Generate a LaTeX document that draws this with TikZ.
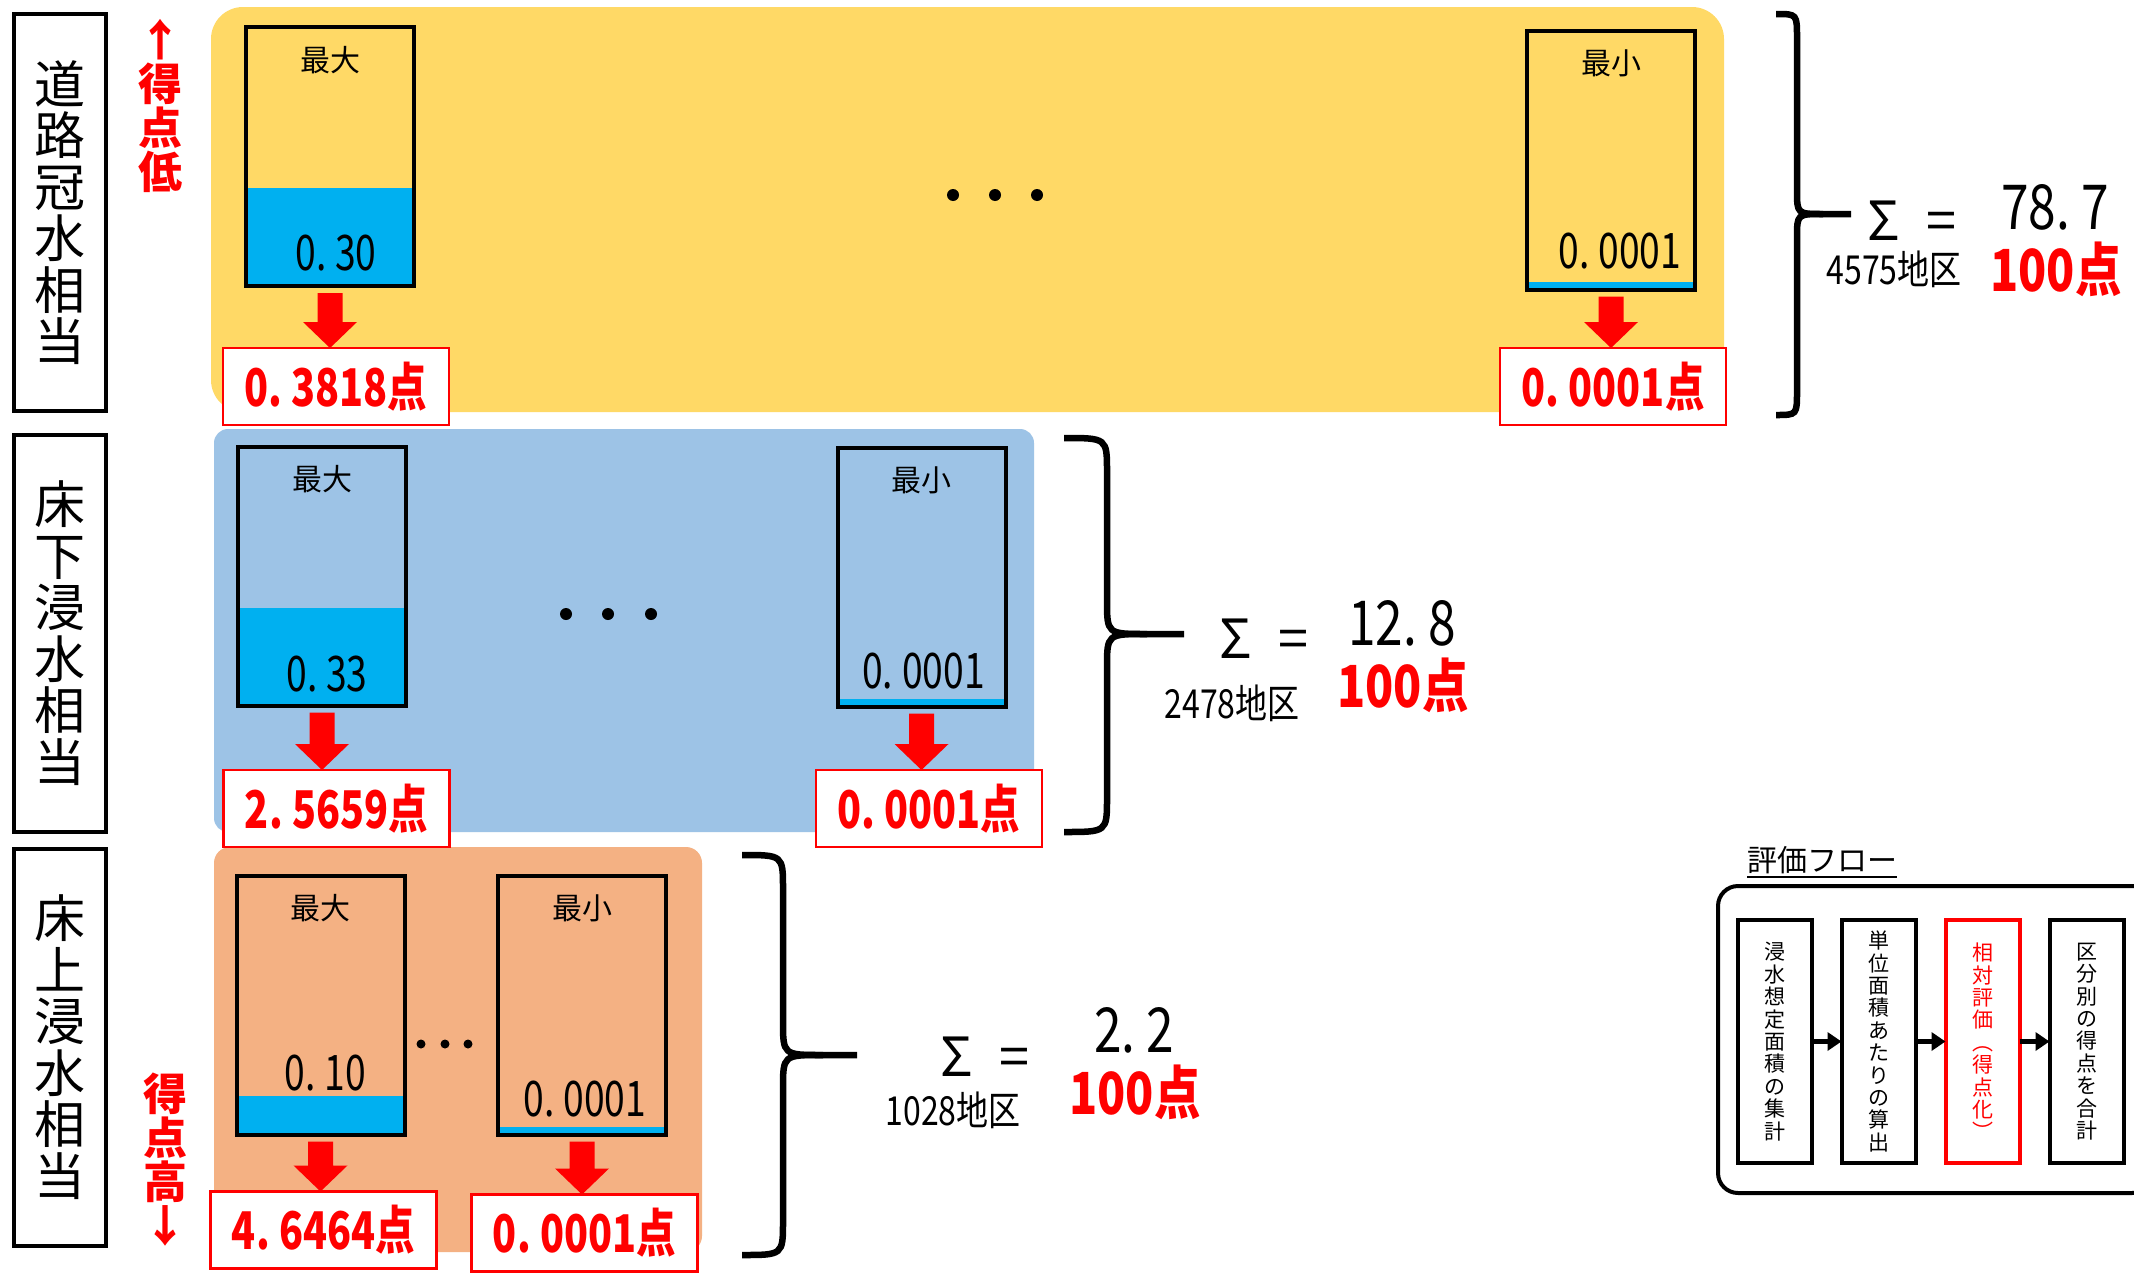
\documentclass[tikz,border=0pt]{standalone}
\usepackage{fontspec}
\usetikzlibrary{calc,arrows.meta}
\newfontfamily\jp{Noto Sans CJK JP}
\newfontfamily\jpn[FakeStretch=0.8]{Noto Sans CJK JP}
\newfontfamily\jpc[FakeStretch=0.76]{Noto Sans CJK JP}
% extra room after a decimal point, as in the number face used here
\newcommand\dg{.\kern0.18em}

\definecolor{panelyellow}{HTML}{FFD966}
\definecolor{panelblue}{HTML}{9DC3E6}
\definecolor{panelorange}{HTML}{F4B183}
\definecolor{waterblue}{HTML}{00B0F0}
\definecolor{scorered}{HTML}{FF0000}

\tikzset{
  every node/.style={inner sep=0pt, outer sep=0pt},
  catbox/.style={draw, line width=4pt, minimum width=92pt, minimum height=397pt,
    align=center, font=\jp\fontsize{51}{51.5}\selectfont},
  redlabel/.style={text=scorered, align=center, font=\jp\bfseries\fontsize{44}{44}\selectfont},
  tank/.style={draw, line width=4pt, minimum width=168pt, minimum height=259pt},
  waterlevel/.style={path picture={\fill[waterblue] (path picture bounding box.south west)
      rectangle ([yshift=#1]path picture bounding box.south east);}},
  tanklabel/.style={font=\jp\fontsize{30}{30}\selectfont},
  tankvalue/.style={font=\jpc\fontsize{49}{49}\selectfont},
  scorebox/.style={draw=scorered, fill=white, line width=2.5pt, minimum width=226pt,
    minimum height=77pt, text=scorered, font=\jpc\bfseries\fontsize{52}{52}\selectfont},
  bracestyle/.style={line width=6.5pt},
  sumsym/.style={font=\jp\fontsize{54}{54}\selectfont},
  sumval/.style={font=\jpn\fontsize{62}{62}\selectfont},
  sumcount/.style={font=\jpn\fontsize{40}{40}\selectfont},
  sumpts/.style={text=scorered, font=\jpn\bfseries\fontsize{58}{58}\selectfont},
  flowbox/.style={draw, line width=4pt, minimum width=74pt, minimum height=243pt,
    align=center, font=\jp\fontsize{21}{22.4}\selectfont},
  flowarrow/.style={line width=5pt, -{Triangle[length=14pt,width=18pt]}},
}

% red block arrow from a tank down to its score box
\newcommand\scorearrow[2]{%
  \fill[scorered] let \p1=($(#1.south)+(0,7)$), \p2=(#2.north) in
    (\x1-12.5pt,\y1) -- (\x1+12.5pt,\y1) -- (\x1+12.5pt,\y2+26pt) -- (\x1+27pt,\y2+26pt)
    -- (\x1,\y2) -- (\x1-27pt,\y2+26pt) -- (\x1-12.5pt,\y2+26pt) -- cycle;}

% curly brace: left end x, spine x, top, middle, bottom, tip x, hook radius, middle bend
\newcommand\bigbrace[8]{%
  \draw[bracestyle] (#1,#3) .. controls (#2,#3) .. (#2,#3+#7) -- (#2,#4-#7)
    .. controls (#2,#4) .. (#2+#8,#4) -- (#6,#4);
  \draw[bracestyle] (#2+#8,#4) .. controls (#2,#4) .. (#2,#4+#7) -- (#2,#5-#7)
    .. controls (#2,#5) .. (#1,#5);}

\begin{document}
\begin{tikzpicture}[x=1pt,y=-1pt]
\useasboundingbox (0,0) rectangle (2134,1272);
\fill[white] (0,0) rectangle (2134,1272);

% coloured bands
\fill[panelyellow, rounded corners=32pt] (211,7) rectangle (1724,412);
\fill[panelblue, rounded corners=14pt] (214,429) rectangle (1034,832);
\fill[panelorange, rounded corners=16pt] (214,847) rectangle (702,1252);

% category labels
\node[catbox] (cat1) at (60,212.5) {道\\路\\冠\\水\\相\\当};
\node[catbox] (cat2) at (60,633) {床\\下\\浸\\水\\相\\当};
\node[catbox] (cat3) at (60,1047) {床\\上\\浸\\水\\相\\当};
\node[redlabel] (low) at (160,106) {↑\\得\\点\\低};
\node[redlabel] (high) at (165,1160) {得\\点\\高\\↓};

% road flooding
\node[tank, waterlevel=98pt] (t1a) at (330,156.5) {};
\node[tanklabel] (t1al) at ([yshift=-33pt]t1a.north) {最大};
\node[tankvalue] (t1av) at ([shift={(6pt,33pt)}]t1a.south) {0\dg30};
\node[tank, waterlevel=8pt] (t1b) at (1611,160) {};
\node[tanklabel] (t1bl) at ([yshift=-33pt]t1b.north) {最小};
\node[tankvalue] (t1bv) at ([shift={(9pt,38pt)}]t1b.south) {0\dg0001};
\fill (953,195) circle (6pt) (995,195) circle (6pt) (1037,195) circle (6pt);
\node[scorebox] (s1a) at (336,386.5) {0\dg3818点};
\node[scorebox] (s1b) at (1613,386.5) {0\dg0001点};
\scorearrow{t1a}{s1a}
\scorearrow{t1b}{s1b}

% below-floor flooding
\node[tank, waterlevel=98pt] (t2a) at (322,576) {};
\node[tanklabel] (t2al) at ([yshift=-33pt]t2a.north) {最大};
\node[tankvalue] (t2av) at ([shift={(5pt,31pt)}]t2a.south) {0\dg33};
\node[tank, waterlevel=8pt] (t2b) at (921.5,577) {};
\node[tanklabel] (t2bl) at ([yshift=-33pt]t2b.north) {最小};
\node[tankvalue] (t2bv) at ([shift={(2pt,35pt)}]t2b.south) {0\dg0001};
\fill (566,614) circle (6pt) (608,614) circle (6pt) (651,614) circle (6pt);
\node[scorebox] (s2a) at (336.5,808.5) {2\dg5659点};
\node[scorebox] (s2b) at (929,808.5) {0\dg0001点};
\scorearrow{t2a}{s2a}
\scorearrow{t2b}{s2b}

% above-floor flooding
\node[tank, waterlevel=39pt] (t3a) at (320.5,1005) {};
\node[tanklabel] (t3al) at ([yshift=-33pt]t3a.north) {最大};
\node[tankvalue] (t3av) at ([shift={(5pt,61pt)}]t3a.south) {0\dg10};
\node[tank, waterlevel=8pt] (t3b) at (582,1005) {};
\node[tanklabel] (t3bl) at ([yshift=-33pt]t3b.north) {最小};
\node[tankvalue] (t3bv) at ([shift={(3pt,35pt)}]t3b.south) {0\dg0001};
\fill (421,1044) circle (4.5pt) (445,1044) circle (4.5pt) (468,1044) circle (4.5pt);
\node[scorebox] (s3a) at (323.5,1230) {4\dg6464点};
\node[scorebox] (s3b) at (584.5,1233) {0\dg0001点};
\scorearrow{t3a}{s3a}
\scorearrow{t3b}{s3b}

% totals
\bigbrace{1776}{1797}{14}{214}{415}{1851}{24}{26}
\node[sumsym] (sum1) at (1912,221) {Σ\hspace{26pt}=};
\node[sumval] (sum1v) at (2055,207) {78\dg7};
\node[sumcount] (sum1c) at (1894,269) {4575地区};
\node[sumpts] (sum1p) at (2056,269) {100点};

\bigbrace{1064}{1107}{438}{634}{832}{1184}{34}{40}
\node[sumsym] (sum2) at (1264,639) {Σ\hspace{26pt}=};
\node[sumval] (sum2v) at (1402,623) {12\dg8};
\node[sumcount] (sum2c) at (1232,703) {2478地区};
\node[sumpts] (sum2p) at (1403,685) {100点};

\bigbrace{742}{783}{855}{1055}{1255}{857}{34}{40}
\node[sumsym] (sum3) at (985,1057) {Σ\hspace{26pt}=};
\node[sumval] (sum3v) at (1134,1030) {2\dg2};
\node[sumcount] (sum3c) at (953,1110) {1028地区};
\node[sumpts] (sum3p) at (1135,1092) {100点};

% evaluation flow
\node[font=\jp\fontsize{30}{30}\selectfont] (flowtitle) at (1822,860) {評価フロー};
\draw[line width=2pt] ([yshift=-3pt]flowtitle.south west) -- ([yshift=-3pt]flowtitle.south east);
\begin{scope}
  \clip (0,0) rectangle (2134,1272);
  \draw[line width=4pt, rounded corners=20pt] (1718,886) rectangle (2152,1193);
\end{scope}
\node[flowbox] (f1) at (1775,1041.5) {浸\\水\\想\\定\\面\\積\\の\\集\\計};
\node[flowbox] (f2) at (1878.5,1041.5) {単\\位\\面\\積\\あ\\た\\り\\の\\算\\出};
\node[flowbox, draw=scorered, text=scorered] (f3) at (1982.5,1041.5) {相\\対\\評\\価\\︵\\得\\点\\化\\︶};
\node[flowbox] (f4) at (2086.5,1041.5) {区\\分\\別\\の\\得\\点\\を\\合\\計};
\draw[flowarrow] (f1.east) -- (f2.west);
\draw[flowarrow] (f2.east) -- (f3.west);
\draw[flowarrow] (f3.east) -- (f4.west);
\end{tikzpicture}
\end{document}
